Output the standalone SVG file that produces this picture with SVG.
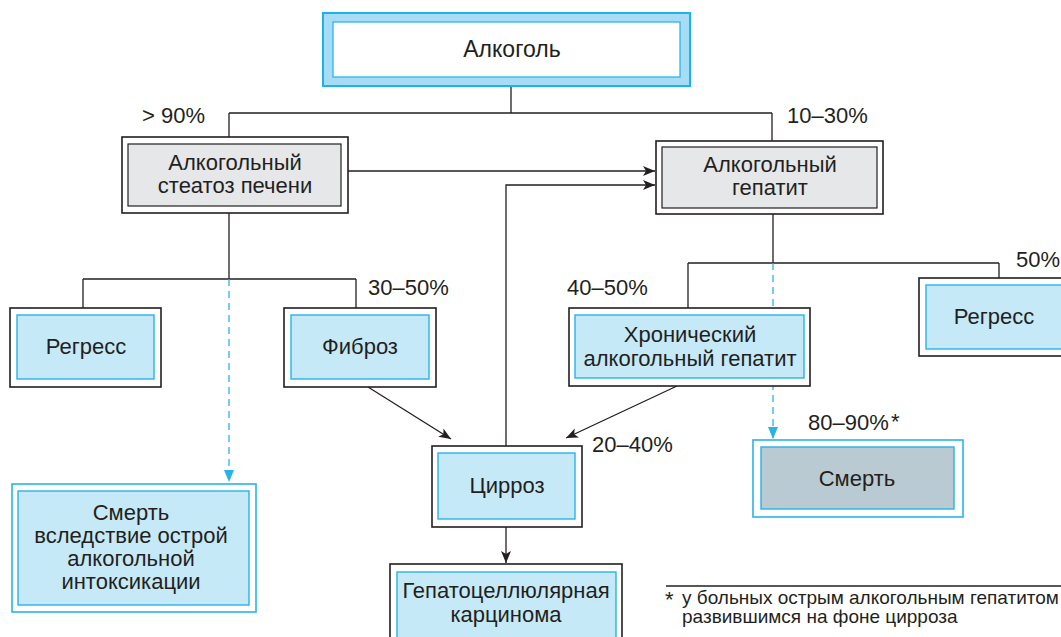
<svg xmlns="http://www.w3.org/2000/svg" width="1061" height="637" viewBox="0 0 1061 637">
<defs>
<style>
text{font-family:"Liberation Sans",Arial,sans-serif;font-size:22px;fill:#231f20}
.c{text-anchor:middle}
.outer{fill:#fff;stroke:#231f20;stroke-width:1.6}
.outerb{fill:#fff;stroke:#29b3e8;stroke-width:1.6}
.inb{fill:#c6e9f8;stroke:#29b3e8;stroke-width:1.4}
.ing{fill:#e6e7e8;stroke:#231f20;stroke-width:1.2}
.ln{fill:none;stroke:#231f20;stroke-width:1.3}
.dash{fill:none;stroke:#29b3e8;stroke-width:1.3;stroke-dasharray:7 5}
.fn{font-size:19px}
.ast{font-size:22px}
</style>
<marker id="ah" markerUnits="userSpaceOnUse" markerWidth="14" markerHeight="12" refX="12" refY="5" orient="auto"><path d="M0,0 L12,5 L0,10 L3,5 Z" fill="#231f20"/></marker>
<marker id="ahb" markerUnits="userSpaceOnUse" markerWidth="14" markerHeight="12" refX="12" refY="5" orient="auto"><path d="M0,0 L12,5 L0,10 Z" fill="#29b3e8"/></marker>
</defs>
<g id="connectors">
<path class="ln" d="M511,87 V113 M229,113 H772 M229,113 V137 M772,113 V141"/>
<path class="ln" d="M348,171 H655" marker-end="url(#ah)"/>
<path class="ln" d="M506,446 V185 H655" marker-end="url(#ah)"/>
<path class="ln" d="M229,213 V279 M83,279 H356 M83,279 V308 M356,279 V308"/>
<path class="dash" d="M229,279 V482" marker-end="url(#ahb)"/>
<path class="ln" d="M773,214 V263 M688,263 H999 M688,263 V308 M999,263 V278"/>
<path class="dash" d="M773,263 V439" marker-end="url(#ahb)"/>
<path class="ln" d="M368,387 L451,439" marker-end="url(#ah)"/>
<path class="ln" d="M677,386 L566,438" marker-end="url(#ah)"/>
<path class="ln" d="M506,527 V563" marker-end="url(#ah)"/>
</g>
<g id="n-alcohol">
<rect x="323" y="13" width="367" height="73" fill="#a6dcf5" stroke="#1fb1ea" stroke-width="2"/>
<rect x="333" y="22" width="347" height="55" fill="#fff" stroke="#1fb1ea" stroke-width="1.2"/>
<text class="c" x="512" y="57" style="font-size:23px">Алкоголь</text>
</g>
<g id="n-steatosis">
<rect class="outer" x="122" y="137" width="226" height="76"/>
<rect class="ing" x="128" y="144" width="213" height="62"/>
<text class="c" x="235" y="170">Алкогольный</text>
<text class="c" x="235" y="193">стеатоз печени</text>
</g>
<g id="n-hepatitis">
<rect class="outer" x="656" y="141" width="227" height="73"/>
<rect class="ing" x="662" y="147" width="215" height="61"/>
<text class="c" x="770" y="172">Алкогольный</text>
<text class="c" x="770" y="195">гепатит</text>
</g>
<g id="n-regress-left">
<rect class="outer" x="10" y="308" width="151" height="79"/>
<rect class="inb" x="17" y="315" width="137" height="64"/>
<text class="c" x="86" y="354">Регресс</text>
</g>
<g id="n-fibrosis">
<rect class="outer" x="284" y="308" width="152" height="79"/>
<rect class="inb" x="291" y="315" width="138" height="64"/>
<text class="c" x="360" y="354">Фиброз</text>
</g>
<g id="n-chronic">
<rect class="outer" x="569" y="308" width="241" height="78"/>
<rect class="inb" x="575" y="315" width="229" height="63"/>
<text class="c" x="690" y="342">Хронический</text>
<text class="c" x="690" y="366">алкогольный гепатит</text>
</g>
<g id="n-regress-right">
<rect class="outer" x="919" y="278" width="150" height="78"/>
<rect class="inb" x="926" y="285" width="140" height="64"/>
<text class="c" x="994" y="324">Регресс</text>
</g>
<g id="n-cirrhosis">
<rect class="outer" x="432" y="446" width="150" height="81"/>
<rect class="inb" x="438" y="453" width="137" height="66"/>
<text class="c" x="507" y="493">Цирроз</text>
</g>
<g id="n-death-right">
<rect class="outerb" x="753" y="440" width="210" height="77"/>
<rect x="761" y="447" width="193" height="62" fill="#b9cad3" stroke="#29b3e8" stroke-width="1.4"/>
<text class="c" x="857" y="486">Смерть</text>
</g>
<g id="n-death-left">
<rect class="outerb" x="12" y="484" width="244" height="128"/>
<rect class="inb" x="18" y="491" width="231" height="114"/>
<text class="c" x="131" y="520">Смерть</text>
<text class="c" x="131" y="543">вследствие острой</text>
<text class="c" x="131" y="566">алкогольной</text>
<text class="c" x="131" y="589">интоксикации</text>
</g>
<g id="n-carcinoma">
<rect class="outer" x="390" y="564" width="232" height="80"/>
<rect class="inb" x="397" y="572" width="219" height="70"/>
<text class="c" x="506" y="598">Гепатоцеллюлярная</text>
<text class="c" x="506" y="622">карцинома</text>
</g>
<g id="labels">
<text x="142" y="123">&gt; 90%</text>
<text x="787" y="123">10–30%</text>
<text x="368" y="295">30–50%</text>
<text x="567" y="295">40–50%</text>
<text x="1016" y="267">50%</text>
<text x="592" y="452">20–40%</text>
<text x="808" y="430">80–90%</text>
<text class="ast" x="891" y="429">*</text>
</g>
<g id="footnote">
<path class="ln" d="M666,586 H1061"/>
<text class="ast" x="665" y="607">*</text>
<text class="fn" x="682" y="604">у больных острым алкогольным гепатитом</text>
<text class="fn" x="682" y="623">развившимся на фоне цирроза</text>
</g>
</svg>
